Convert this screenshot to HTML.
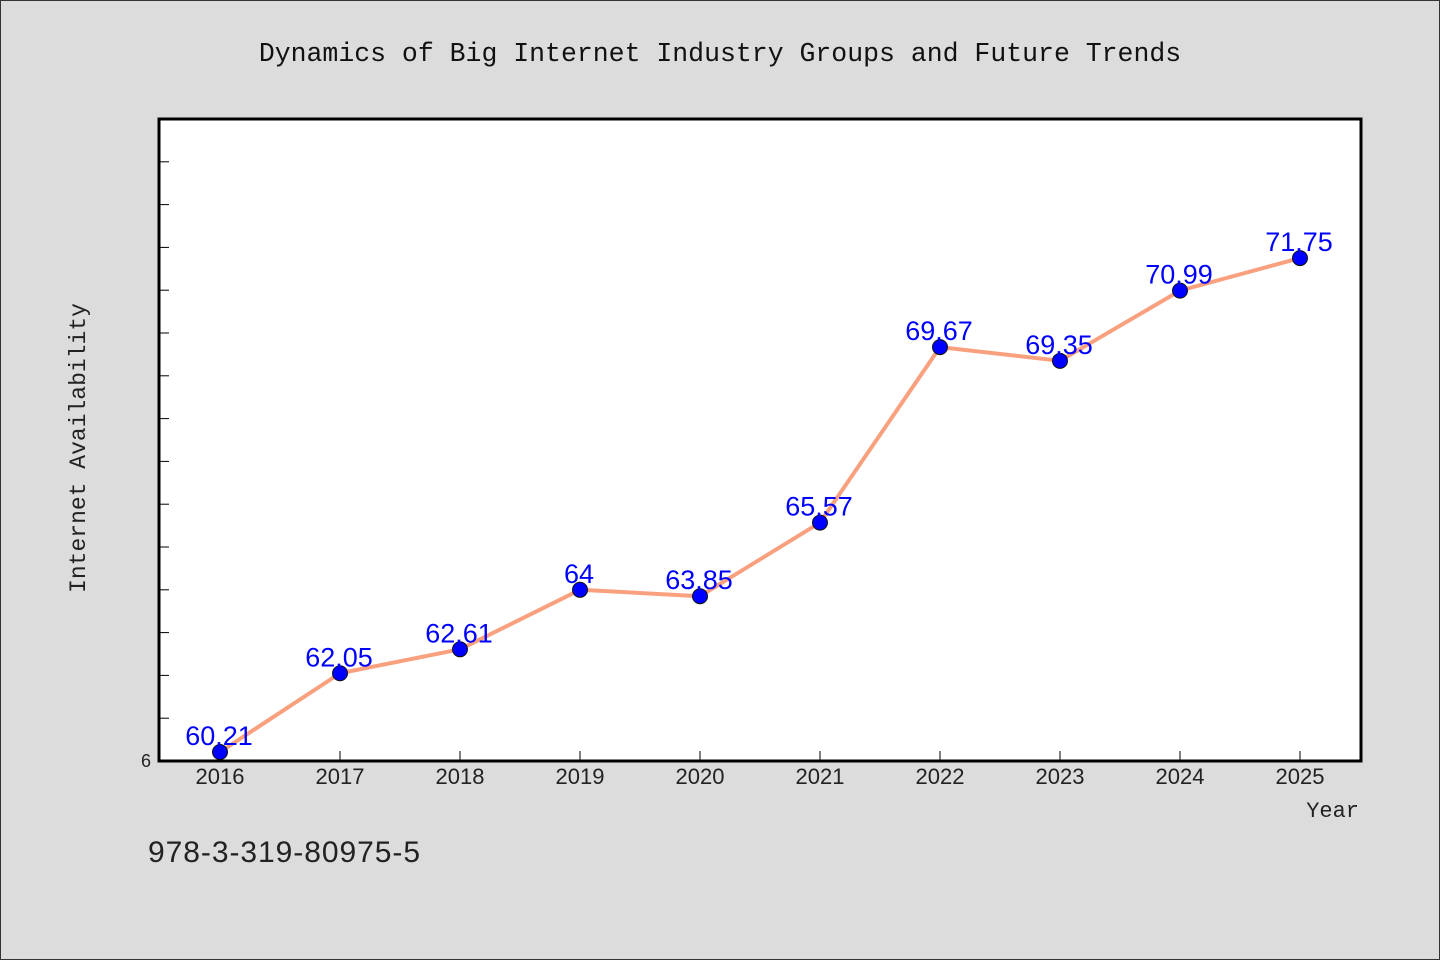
<!DOCTYPE html>
<html><head><meta charset="utf-8"><style>
html,body{margin:0;padding:0;background:#dcdcdc;}
svg{display:block;font-family:"Liberation Sans",sans-serif;}
.mono{font-family:"Liberation Mono",monospace;}
</style></head><body>
<svg width="1440" height="960" id="chart">
<rect x="0.5" y="0.5" width="1439" height="959" fill="#dcdcdc" stroke="#333"/>
<text class="mono" x="720" y="61" text-anchor="middle" font-size="26.5" fill="#111">Dynamics of Big Internet Industry Groups and Future Trends</text>
<rect x="159" y="119" width="1202" height="642" fill="#fff"/>
<g id="ticks"></g>
<g id="series"></g>
<rect x="159" y="119" width="1202" height="642" fill="none" stroke="#000" stroke-width="3"/>
<text x="146" y="767" text-anchor="middle" font-size="18" fill="#222">6</text>
<text class="mono" x="85" y="448" text-anchor="middle" font-size="23" fill="#222" transform="rotate(-90 85 448)">Internet Availability</text>
<text class="mono" x="1359" y="817" text-anchor="end" font-size="22" fill="#222">Year</text>
<text x="148" y="862" font-size="30" fill="#222" textLength="272">978-3-319-80975-5</text>
</svg>
<script>
const years = ["2016","2017","2018","2019","2020","2021","2022","2023","2024","2025"];
const values = [60.21,62.05,62.61,64,63.85,65.57,69.67,69.35,70.99,71.75];
const labels = ["60.21","62.05","62.61","64","63.85","65.57","69.67","69.35","70.99","71.75"];
const yTicks = [61,62,63,64,65,66,67,68,69,70,71,72,73,74];
const NS="http://www.w3.org/2000/svg";
const yMin=60,yMax=75,yTop=119,yBot=761;
function ys(v){return yBot-(v-yMin)/(yMax-yMin)*(yBot-yTop);}
function xs(i){return 220+i*120;}
function mk(t,a,p){const e=document.createElementNS(NS,t);for(const k in a)e.setAttribute(k,a[k]);p.appendChild(e);return e;}
const tg=document.getElementById('ticks'), sg=document.getElementById('series');
yTicks.forEach(v=>{const l=mk('line',{x1:159,x2:169,y1:ys(v),y2:ys(v),stroke:'#000','stroke-width':1},tg);

});
years.forEach((y,i)=>{const l=mk('line',{x1:xs(i),x2:xs(i),y1:761,y2:751,stroke:'#000','stroke-width':1},tg);


const t=mk('text',{x:xs(i),y:784,'text-anchor':'middle','font-size':22,fill:'#222'},tg);t.textContent=y;

});
const pl=mk('polyline',{points:values.map((v,i)=>xs(i)+','+ys(v)).join(' '),fill:'none',stroke:'#f9a07e','stroke-width':4,'stroke-linejoin':'round'},sg);


values.forEach((v,i)=>{const c=mk('circle',{cx:xs(i),cy:ys(v),r:7.5,fill:'#0000ff',stroke:'#111','stroke-width':1},sg);


const t=mk('text',{x:xs(i)-1,y:ys(v)-7,'text-anchor':'middle','font-size':27,fill:'#0000ff'},sg);t.textContent=labels[i];

});
</script>
</body></html>
